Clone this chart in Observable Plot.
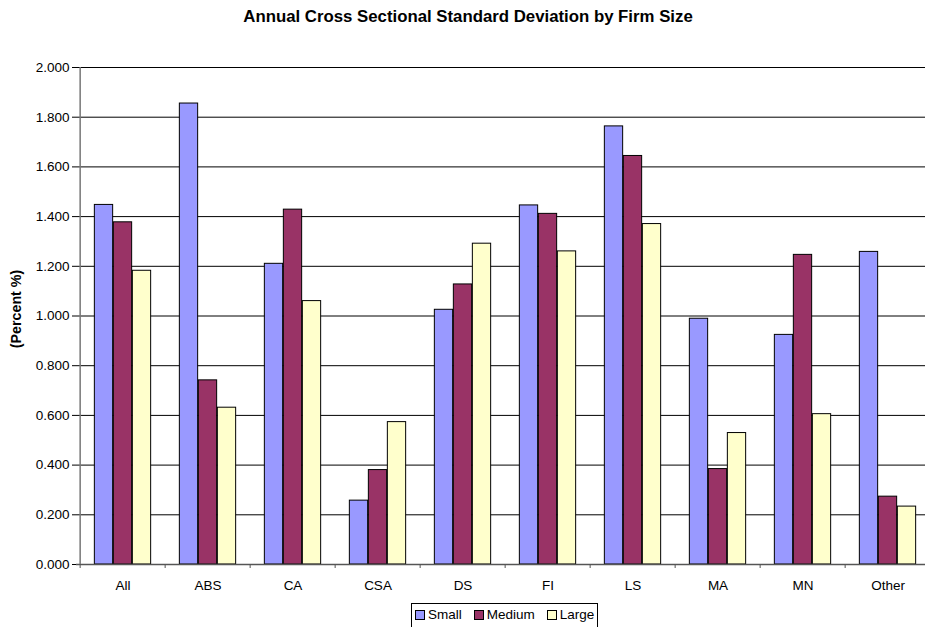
<!DOCTYPE html>
<html>
<head>
<meta charset="utf-8">
<script src="https://cdn.jsdelivr.net/npm/d3@7"></script>
<script src="https://cdn.jsdelivr.net/npm/@observablehq/plot@0.6"></script>
<style>
  body { margin: 0; background: #fff; overflow: hidden; width: 925px; height: 627px; position: relative;
         font-family: "Liberation Sans", Arial, sans-serif; }
  #title { position: absolute; top: 7px; left: 0; width: 936px; text-align: center; font-weight: bold; font-size: 16.8px; color: #000; z-index: 2; line-height: 20px; }
  #chart { position: absolute; left: 0; top: 0; z-index: 1; }
  #chart svg { max-width: none !important; }
  #legend { position: absolute; left: 411px; top: 603px; border: 1px solid #000; padding: 3px 3px 6px 3px;
            font-size: 13.5px; line-height: 16px; display: flex; gap: 12px; background: #fff; white-space: nowrap; z-index: 2; }
  #legend span.item { display: inline-flex; align-items: center; }
  #legend span.sw { display: inline-block; width: 8px; height: 8px; border: 1px solid #000; margin-right: 3px; }
</style>
</head>
<body>
<div id="title">Annual Cross Sectional Standard Deviation by Firm Size</div>
<div id="chart"></div>
<div id="legend"></div>
<script>
const categories = ["All", "ABS", "CA", "CSA", "DS", "FI", "LS", "MA", "MN", "Other"];
const series = ["Small", "Medium", "Large"];
const small  = [1.447, 1.855, 1.210, 0.257, 1.025, 1.445, 1.763, 0.989, 0.924, 1.258];
const medium = [1.377, 0.741, 1.428, 0.380, 1.127, 1.411, 1.644, 0.384, 1.246, 0.273];
const large  = [1.182, 0.631, 1.060, 0.573, 1.291, 1.260, 1.370, 0.529, 0.605, 0.233];
const colors = ["#9999FF", "#993366", "#FFFFCC"];
const yTicks = [0, 0.2, 0.4, 0.6, 0.8, 1.0, 1.2, 1.4, 1.6, 1.8, 2.0];
const yLabel = "(Percent %)";

const values = [small, medium, large];
const width = 933, marginLeft = 76, marginRight = 0;
const step = (width - marginLeft - marginRight) / categories.length;
const barW = 19;
const inset = (step - barW) / 2;

const barMarks = series.map((s, i) =>
  Plot.barY(categories.map((c, j) => ({category: c, value: values[i][j], series: s})), {
    x: "category", y: "value", fill: colors[i], stroke: "#000", strokeWidth: 1,
    insetLeft: inset, insetRight: inset, dx: (i - 1) * barW
  })
);

const chart = Plot.plot({
  width, height: 595,
  marginLeft, marginRight, marginTop: 67, marginBottom: 31,
  style: {fontFamily: "Liberation Sans, Arial, sans-serif", fontSize: "13.5px", background: "transparent", color: "#000", maxWidth: "none"},
  x: {domain: categories, padding: 0, axis: null},
  y: {domain: [0, 2], axis: null},
  marks: [
    Plot.gridY(yTicks.slice(1), {stroke: "#000", strokeOpacity: 1, strokeWidth: 1}),
    ...barMarks,
    Plot.ruleY([0], {stroke: "#555", strokeWidth: 1.5}),
    Plot.ruleX([categories[0]], {dx: -step / 2, stroke: "#777", strokeWidth: 1.5}),
    Plot.axisY({ticks: yTicks, tickFormat: d3.format(".3f"), tickSize: 4, tickPadding: 3, label: null, fontSize: 13.5}),
    Plot.axisX({tickSize: 0, tickPadding: 16, label: null, fontSize: 13.5}),
    Plot.axisX({tickSize: 4, dx: -step / 2, tickFormat: () => "", label: null, stroke: "#555"}),
    Plot.text([yLabel], {frameAnchor: "left", textAnchor: "middle", rotate: -90, dx: -60, dy: -7, fontWeight: "bold", fontSize: 14.3})
  ]
});
document.getElementById("chart").appendChild(chart);

const legend = document.getElementById("legend");
series.forEach((s, i) => {
  const item = document.createElement("span");
  item.className = "item";
  const sw = document.createElement("span");
  sw.className = "sw";
  sw.style.background = colors[i];
  item.appendChild(sw);
  item.appendChild(document.createTextNode(s));
  legend.appendChild(item);
});
</script>
</body>
</html>
